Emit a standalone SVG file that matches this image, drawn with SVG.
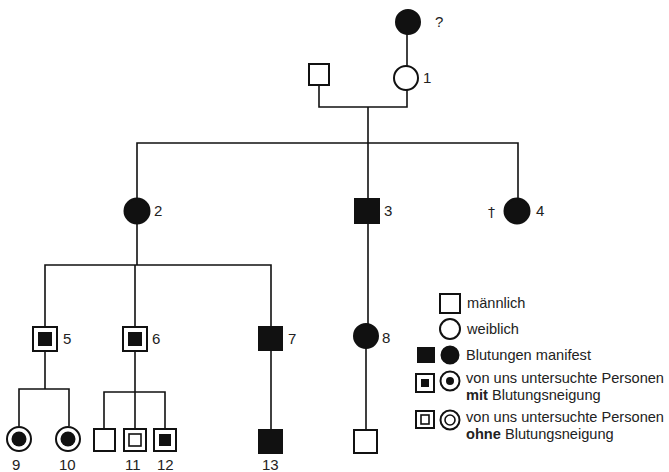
<svg xmlns="http://www.w3.org/2000/svg" width="669" height="472" viewBox="0 0 669 472">
<style>
.ln{stroke:#111;stroke-width:1.6;fill:none}
.sh{stroke:#111;stroke-width:2;fill:#fff}
.fl{fill:#111;stroke:#111;stroke-width:2}
.ib{fill:#111;stroke:none}
.iw{fill:#fff;stroke:#111;stroke-width:1.6}
.lb{font-family:"Liberation Sans",Arial,sans-serif;font-size:15px;fill:#222}
.dg{font-family:"DejaVu Sans","Liberation Serif",serif;font-size:14px;fill:#222}
.lg{font-family:"Liberation Sans",Arial,sans-serif;font-size:14.6px;fill:#222}
</style>
<rect width="669" height="472" fill="#fff"/>
<g id="connectors">
<path class="ln" d="M407,34 V66"/>
<path class="ln" d="M319,85 V107 H407 V90"/>
<path class="ln" d="M368,107 V199 M368,223 V324 M366,348 V430"/>
<path class="ln" d="M137,198 V143 H518 V198"/>
<path class="ln" d="M137,224 V265 M45,327 V265 H271 V327 M135,265 V327"/>
<path class="ln" d="M45,351 V389 M19,426 V389 H69 V426"/>
<path class="ln" d="M135,351 V392 M104,429 V392 H165 V429 M135,392 V429"/>
<path class="ln" d="M271,350 V429"/>
</g>
<g id="n-top">
<circle class="fl" cx="408" cy="22" r="12"/>
<text class="lb" x="435" y="27">?</text>
</g>
<g id="n-father">
<rect class="sh" x="309" y="64" width="20" height="21"/>
</g>
<g id="n1">
<circle class="sh" cx="406" cy="78" r="12"/>
<text class="lb" x="423" y="83">1</text>
</g>
<g id="n2">
<circle class="fl" cx="137" cy="211" r="12.5"/>
<text class="lb" x="154" y="216">2</text>
</g>
<g id="n3">
<rect class="fl" x="355" y="199" width="24" height="24"/>
<text class="lb" x="384" y="216">3</text>
</g>
<g id="n4">
<circle class="fl" cx="517" cy="211" r="12.5"/>
<text class="dg" x="488" y="217">†</text>
<text class="lb" x="536" y="216">4</text>
</g>
<g id="n5">
<rect class="sh" x="33" y="327" width="24" height="24"/>
<rect class="ib" x="38" y="332" width="14" height="14"/>
<text class="lb" x="63" y="344">5</text>
</g>
<g id="n6">
<rect class="sh" x="123" y="327" width="24" height="24"/>
<rect class="ib" x="128" y="332" width="14" height="14"/>
<text class="lb" x="152" y="344">6</text>
</g>
<g id="n7">
<rect class="fl" x="259" y="327" width="23" height="23"/>
<text class="lb" x="288" y="344">7</text>
</g>
<g id="n8">
<circle class="fl" cx="366" cy="336" r="12"/>
<text class="lb" x="382" y="343">8</text>
</g>
<g id="n9">
<circle class="sh" cx="19" cy="439" r="12" stroke-width="2.4"/>
<circle class="ib" cx="19" cy="439" r="7.5"/>
<text class="lb" x="12" y="470">9</text>
</g>
<g id="n10">
<circle class="sh" cx="68" cy="439" r="12" stroke-width="2.4"/>
<circle class="ib" cx="68" cy="439" r="7.5"/>
<text class="lb" x="59" y="470">10</text>
</g>
<g id="n-son">
<rect class="sh" x="94" y="429" width="21" height="22"/>
</g>
<g id="n11">
<rect class="sh" x="124" y="429" width="22" height="22"/>
<rect class="iw" x="129" y="434" width="12" height="12"/>
<text class="lb" x="125" y="470">11</text>
</g>
<g id="n12">
<rect class="sh" x="154" y="429" width="22" height="22"/>
<rect class="ib" x="159" y="434" width="12" height="12"/>
<text class="lb" x="157" y="470">12</text>
</g>
<g id="n13">
<rect class="fl" x="259" y="430" width="23" height="23"/>
<text class="lb" x="262" y="470">13</text>
</g>
<g id="n-grandson">
<rect class="sh" x="354" y="430" width="23" height="23"/>
</g>
<g id="legend">
<rect class="sh" x="440" y="294" width="20" height="19"/>
<text class="lg" x="467" y="308">männlich</text>
<circle class="sh" cx="450" cy="329" r="10"/>
<text class="lg" x="467" y="334">weiblich</text>
<rect class="fl" x="418" y="348" width="16" height="14"/>
<circle class="fl" cx="450" cy="355" r="8.5"/>
<text class="lg" x="466" y="360">Blutungen manifest</text>
<rect class="sh" x="416" y="374" width="18" height="18"/>
<rect class="ib" x="421" y="379" width="8" height="8"/>
<circle class="sh" cx="450" cy="381" r="9.5" stroke-width="2.4"/>
<circle class="ib" cx="450" cy="381" r="4"/>
<text class="lg" x="466" y="383" textLength="198" lengthAdjust="spacingAndGlyphs">von uns untersuchte Personen</text>
<text class="lg" x="466" y="400"><tspan font-weight="bold">mit</tspan> Blutungsneigung</text>
<rect class="sh" x="416" y="411" width="18" height="17"/>
<rect class="iw" x="421" y="415" width="8" height="9"/>
<circle class="sh" cx="450" cy="420" r="9.5" stroke-width="2.2"/>
<circle class="iw" cx="450" cy="420" r="5"/>
<text class="lg" x="466" y="422" textLength="198" lengthAdjust="spacingAndGlyphs">von uns untersuchte Personen</text>
<text class="lg" x="466" y="439"><tspan font-weight="bold">ohne</tspan> Blutungsneigung</text>
</g>
</svg>
